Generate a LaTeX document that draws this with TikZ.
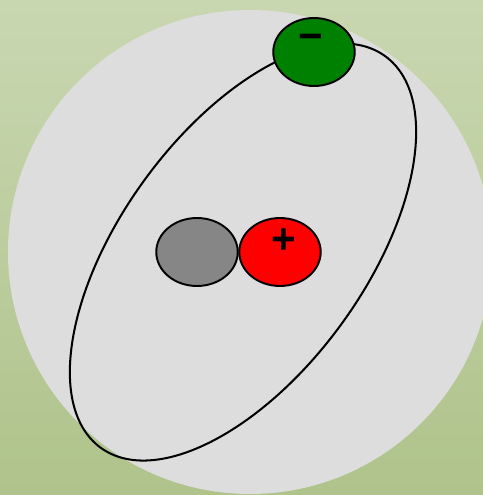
\documentclass[tikz,border=0pt]{standalone}
\usepackage{fontspec}
\setmainfont{Liberation Sans}
\usetikzlibrary{shapes.geometric}
\definecolor{bgtop}{RGB}{201,215,177}
\definecolor{bgbot}{RGB}{175,195,139}
\definecolor{cloud}{RGB}{221,221,221}
\definecolor{nGray}{RGB}{134,134,134}
\definecolor{eGreen}{RGB}{0,128,0}
\tikzset{particle/.style={ellipse,draw=black,line width=1.1pt,minimum width=1.63cm,minimum height=1.36cm,inner sep=0pt},
  charge/.style={inner sep=0pt,font=\fontsize{24}{24}\selectfont\bfseries}}

\begin{document}
\begin{tikzpicture}[x=0.02cm,y=0.02cm]
\clip (0,0) rectangle (483,495);
\shade[top color=bgtop,bottom color=bgbot] (0,0) rectangle (483,495);
\fill[cloud] (250,243) circle (242);
\draw[line width=1.15pt,rotate around={54:(243,243)}] (243,243) ellipse (242 and 122);
\node[particle,fill=nGray] (neutron) at (197,243) {};
\node[particle,fill=red] (proton) at (280,243) {};
\node[particle,fill=eGreen] (electron) at (314,443) {};
\node[charge] (plus) at (283.5,253.5) {+};\node[charge] (minus) at (311,452.5) {−};
\end{tikzpicture}
\end{document}
